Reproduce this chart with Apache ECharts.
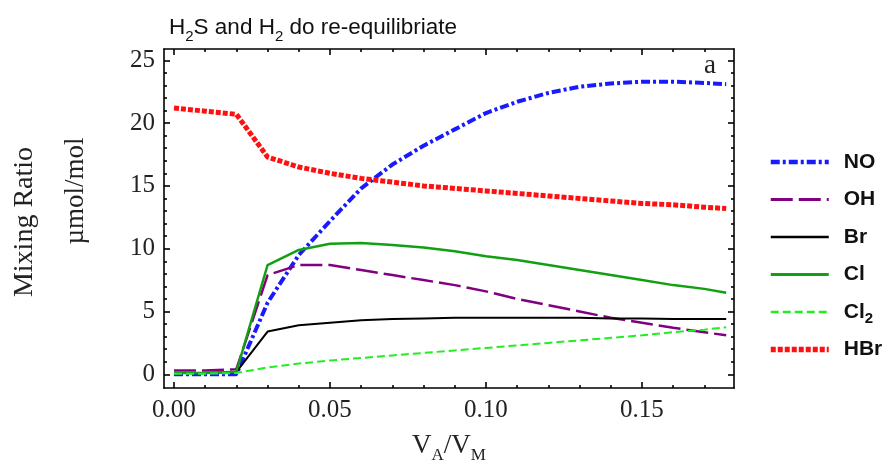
<!DOCTYPE html>
<html>
<head>
<meta charset="utf-8">
<script src="https://cdn.jsdelivr.net/npm/echarts@6/dist/echarts.min.js"></script>
<style>
  html, body { margin: 0; padding: 0; background: #fff; }
  #main { width: 885px; height: 469px; }
</style>
</head>
<body>
<div id="main"></div>
<script>
// V_A/V_M values where the curves are sampled
var ratio = [0, 0.01, 0.02, 0.03, 0.04, 0.05, 0.06, 0.07, 0.08, 0.09, 0.10,
             0.11, 0.12, 0.13, 0.14, 0.15, 0.16, 0.17, 0.177];

// mixing ratios, umol/mol
var no_vals  = [0, 0, 0, 5.7, 9.5, 12.2, 14.8, 16.7, 18.2, 19.5, 20.8,
                21.7, 22.4, 22.9, 23.15, 23.3, 23.3, 23.2, 23.1];
var oh_vals  = [0.3, 0.3, 0.4, 7.9, 8.7, 8.7, 8.3, 7.9, 7.5, 7.1, 6.6,
                6.0, 5.5, 5.0, 4.5, 4.1, 3.7, 3.35, 3.1];
var br_vals  = [0.1, 0.1, 0.2, 3.4, 3.9, 4.1, 4.3, 4.4, 4.45, 4.5, 4.5,
                4.5, 4.5, 4.5, 4.45, 4.45, 4.4, 4.4, 4.4];
var cl_vals  = [0.1, 0.1, 0.2, 8.7, 9.9, 10.4, 10.45, 10.3, 10.1, 9.8, 9.4,
                9.1, 8.7, 8.3, 7.9, 7.5, 7.1, 6.8, 6.5];
var cl2_vals = [0.05, 0.05, 0.1, 0.55, 0.85, 1.1, 1.3, 1.5, 1.7, 1.9, 2.1,
                2.3, 2.5, 2.7, 2.9, 3.1, 3.35, 3.55, 3.75];
var hbr_vals = [21.2, 20.95, 20.7, 17.3, 16.5, 16.0, 15.6, 15.3, 15.0, 14.8, 14.6,
                14.4, 14.2, 14.0, 13.8, 13.6, 13.5, 13.3, 13.2];

// tick positions
var xMajor = [0, 0.05, 0.10, 0.15];
var xMinor = [0.01, 0.02, 0.03, 0.04, 0.06, 0.07, 0.08, 0.09, 0.11, 0.12, 0.13, 0.14, 0.16, 0.17];
var yMajor = [0, 5, 10, 15, 20, 25];
var yMinor = [1, 2, 3, 4, 6, 7, 8, 9, 11, 12, 13, 14, 16, 17, 18, 19, 21, 22, 23, 24];

var X_MIN = -0.0032, X_MAX = 0.1795;
var Y_MIN = -1.1, Y_MAX = 25.9;

var serif = '"Liberation Serif", "DejaVu Serif", serif';
var sans = '"Liberation Sans", Arial, sans-serif';

function pairs(ys) {
  return ratio.map(function (x, i) { return [x, ys[i]]; });
}

function xAx(pos, ticks, len, showLine, labels) {
  return {
    type: 'value', position: pos, min: X_MIN, max: X_MAX,
    splitLine: { show: false },
    axisLine: { show: showLine, onZero: false, lineStyle: { color: '#000', width: 1.6 } },
    axisTick: { show: true, inside: true, length: len, customValues: ticks,
                lineStyle: { color: '#000', width: 1.6 } },
    axisLabel: labels ? {
      show: true, customValues: ticks, margin: 10,
      fontFamily: serif, fontSize: 25, color: '#222',
      formatter: function (v) { return v.toFixed(2); }
    } : { show: false }
  };
}

function yAx(pos, ticks, len, showLine, labels) {
  return {
    type: 'value', position: pos, min: Y_MIN, max: Y_MAX,
    splitLine: { show: false },
    axisLine: { show: showLine, onZero: false, lineStyle: { color: '#000', width: 1.6 } },
    axisTick: { show: true, inside: true, length: len, customValues: ticks,
                lineStyle: { color: '#000', width: 1.6 } },
    axisLabel: labels ? {
      show: true, customValues: ticks, margin: 9,
      fontFamily: serif, fontSize: 25, color: '#222',
      formatter: function (v) { return String(Math.round(v)); }
    } : { show: false }
  };
}

var chart = echarts.init(document.getElementById('main'), null, { renderer: 'canvas' });

var xMain = xAx('bottom', xMajor, 6, true, true);
xMain.name = 'V{sub|A}/V{sub|M}';
xMain.nameLocation = 'middle';
xMain.nameGap = 37;
xMain.nameTextStyle = {
  fontFamily: serif, fontSize: 27, color: '#222', lineHeight: 36,
  rich: { sub: { fontFamily: serif, fontSize: 17, color: '#222', lineHeight: 14, verticalAlign: 'bottom' } }
};

// series styles: color, width, dash
var styles = {
  NO:  ['#1a1aff', 4, [9, 3, 3, 3]],
  OH:  ['#800080', 2.5, [22, 6]],
  Br:  ['#000000', 2, 'solid'],
  Cl:  ['#12a012', 2.5, 'solid'],
  Cl2: ['#22ee22', 2, [8, 4]],
  HBr: ['#ff1010', 5, [5, 2]]
};
var names = ['NO', 'OH', 'Br', 'Cl', 'Cl2', 'HBr'];
var values = { NO: no_vals, OH: oh_vals, Br: br_vals, Cl: cl_vals, Cl2: cl2_vals, HBr: hbr_vals };

var series = names.map(function (n) {
  var s = styles[n];
  return {
    name: n, type: 'line', data: pairs(values[n]),
    symbol: 'none', showSymbol: false, smooth: false,
    xAxisIndex: 0, yAxisIndex: 0,
    lineStyle: { color: s[0], width: s[1], type: s[2], cap: 'butt' },
    itemStyle: { color: s[0] }
  };
});

var legendData = names.map(function (n) {
  var s = styles[n];
  return {
    name: n,
    itemStyle: { opacity: 0 },
    lineStyle: { color: s[0], width: s[1] + 0.5, type: s[2], cap: 'butt' }
  };
});

var option = {
  animation: false,
  backgroundColor: '#fff',
  title: {
    text: 'H{sub|2}S and H{sub|2} do re-equilibriate',
    left: 164, top: 7,
    textStyle: {
      fontFamily: sans, fontSize: 22.5, fontWeight: 'normal', color: '#111', lineHeight: 32,
      rich: { sub: { fontFamily: sans, fontSize: 15, color: '#111', lineHeight: 11, verticalAlign: 'bottom' } }
    }
  },
  grid: { left: 164, right: 151, top: 49, bottom: 76, containLabel: false },
  legend: {
    orient: 'vertical', left: 768, top: 148, padding: 0,
    itemWidth: 58, itemHeight: 14, itemGap: 9.5,
    textStyle: {
      fontFamily: sans, fontSize: 21, fontWeight: 'bold', color: '#111',
      lineHeight: 28, padding: [0, 0, 0, 10],
      rich: { sub: { fontFamily: sans, fontSize: 15, fontWeight: 'bold', color: '#111', lineHeight: 10, verticalAlign: 'bottom' } }
    },
    formatter: function (n) { return n === 'Cl2' ? 'Cl{sub|2}' : n; },
    data: legendData
  },
  xAxis: [
    xMain,
    xAx('bottom', xMinor, 3, false, false),
    xAx('top', xMajor, 6, true, false),
    xAx('top', xMinor, 3, false, false)
  ],
  yAxis: [
    yAx('left', yMajor, 6, true, true),
    yAx('left', yMinor, 3, false, false),
    yAx('right', yMajor, 6, true, false),
    yAx('right', yMinor, 3, false, false)
  ],
  graphic: [
    { type: 'text', x: 25, y: 222, rotation: Math.PI / 2,
      style: { text: 'Mixing Ratio', fontFamily: serif, fontSize: 28, fill: '#222', align: 'center', verticalAlign: 'middle' } },
    { type: 'text', x: 76, y: 191, rotation: Math.PI / 2,
      style: { text: 'µmol/mol', fontFamily: serif, fontSize: 27, fill: '#222', align: 'center', verticalAlign: 'middle' } },
    { type: 'text', x: 710, y: 66,
      style: { text: 'a', fontFamily: serif, fontSize: 27, fill: '#222', align: 'center', verticalAlign: 'middle' } }
  ],
  series: series
};

chart.setOption(option);
window.addEventListener('resize', chart.resize);
</script>
</body>
</html>
